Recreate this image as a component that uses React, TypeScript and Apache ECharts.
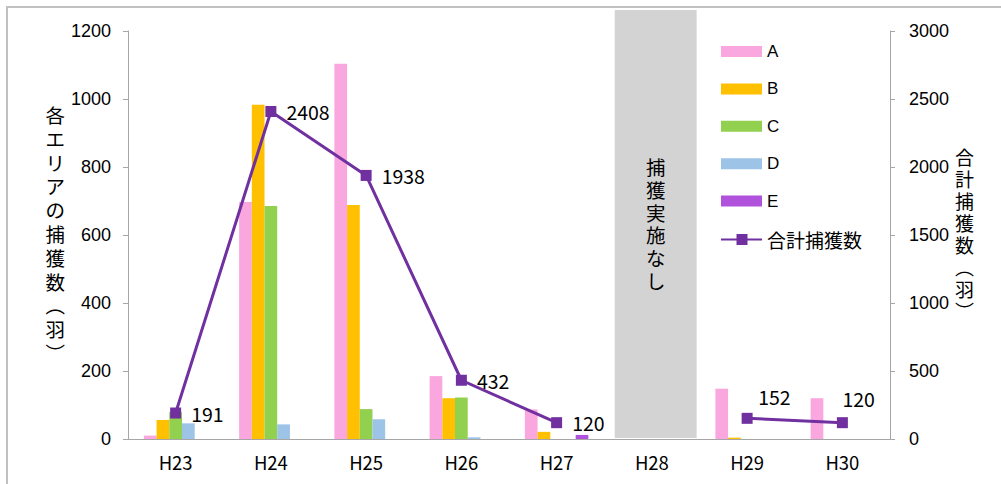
import React, { useEffect, useRef } from "react";
import * as echarts from "echarts";

const categories = ["H23", "H24", "H25", "H26", "H27", "H28", "H29", "H30"];
const seriesA = [10, 697, 1104, 185, 87, null, 148, 120];
const seriesB = [56, 983, 688, 120, 21, null, 4, 0];
const seriesC = [79, 685, 88, 122, 0, null, 0, 0];
const seriesD = [46, 43, 58, 5, 0, null, 0, 0];
const seriesE = [0, 0, 0, 0, 12, null, 0, 0];
const totals = [191, 2408, 1938, 432, 120, null, 152, 120];
const leftTicks = { min: 0, max: 1200, interval: 200 };
const rightTicks = { min: 0, max: 3000, interval: 500 };
const noSurveyCategory = "H28";
const noSurveyText = "捕獲実施なし";
const leftAxisName = "各エリアの捕獲数︵羽︶";
const rightAxisName = "合計捕獲数︵羽︶";
const totalName = "合計捕獲数";

const JP = '"Noto Sans CJK JP", "Noto Sans", sans-serif';
const LAT = '"Liberation Sans", Arial, sans-serif';
const VJP = '"Liberation Sans", "Noto Sans CJK JP", sans-serif';

const colors = {
  A: "#FBA7DF",
  B: "#FFC000",
  C: "#92D050",
  D: "#9DC3E6",
  E: "#B152DD",
  total: "#7030A0",
};

const lineLegendIcon = "path://M0,4.5H15.5V0H26.5V4.5H41V6.5H26.5V11H15.5V6.5H0Z";
// label offsets for the last two points (placed above-right in the reference)
const upperLabelOffsets: Record<number, number[]> = { 6: [-4.5, -22], 7: [-15.5, -24] };

export default function App() {
  const ref = useRef<HTMLDivElement>(null);
  useEffect(() => {
    if (!ref.current) return;
    const chart = echarts.init(ref.current, null, { renderer: "svg" });
    const axisLineStyle = { color: "#A6A6A6", width: 1 };
    const barBase = (name: string, data: (number | null)[], color: string) => ({
      name,
      type: "bar",
      data,
      yAxisIndex: 0,
      barWidth: 12.7,
      barGap: "0%",
      itemStyle: { color },
    });
    const labelRight = { show: true, position: "right", distance: 10, color: "#000", fontFamily: JP, fontSize: 19.5 };
    const totalData = totals.map((v, i) =>
      upperLabelOffsets[i] && v != null ? { value: v, label: { offset: upperLabelOffsets[i] } } : v
    );
    chart.setOption({
      animation: false,
      grid: { left: 128, right: 111, top: 31, bottom: 45 },
      legend: {
        orient: "vertical",
        left: 721,
        top: 43,
        padding: 0,
        itemWidth: 41,
        itemHeight: 11,
        itemGap: 20.4,
        textStyle: { fontFamily: LAT, fontSize: 17, color: "#000" },
        data: [
          { name: "A", icon: "rect" },
          { name: "B", icon: "rect" },
          { name: "C", icon: "rect" },
          { name: "D", icon: "rect" },
          { name: "E", icon: "rect" },
          { name: totalName, icon: lineLegendIcon, textStyle: { fontFamily: JP, fontSize: 19 } },
        ],
      },
      xAxis: {
        type: "category",
        data: categories,
        axisLine: { lineStyle: axisLineStyle },
        axisTick: { length: 5, lineStyle: axisLineStyle },
        axisLabel: { color: "#000", fontFamily: JP, fontSize: 18.5, margin: 14 },
      },
      yAxis: [
        {
          type: "value",
          ...leftTicks,
          position: "left",
          axisLine: { show: true, lineStyle: axisLineStyle },
          axisTick: { show: true, length: 5, lineStyle: axisLineStyle },
          splitLine: { show: false },
          axisLabel: { color: "#000", fontFamily: LAT, fontSize: 18, margin: 17, formatter: (v: number) => String(v) },
          name: leftAxisName.split("").join("\n"),
          nameLocation: "middle",
          nameRotate: 0,
          nameGap: 70,
          nameTextStyle: {
            color: "#000",
            fontFamily: VJP,
            fontSize: 19.5,
            lineHeight: 23.8,
            align: "center",
            padding: [30, 0, 0, 0],
          },
        },
        {
          type: "value",
          ...rightTicks,
          position: "right",
          axisLine: { show: true, lineStyle: axisLineStyle },
          axisTick: { show: true, length: 5, lineStyle: axisLineStyle },
          splitLine: { show: false },
          axisLabel: { color: "#000", fontFamily: LAT, fontSize: 18, margin: 19, formatter: (v: number) => String(v) },
          name: rightAxisName.split("").join("\n"),
          nameLocation: "middle",
          nameRotate: 0,
          nameGap: 72,
          nameTextStyle: {
            color: "#000",
            fontFamily: VJP,
            fontSize: 19,
            lineHeight: 22,
            align: "center",
            padding: [14, 0, 0, 0],
          },
        },
      ],
      series: [
        {
          type: "custom",
          xAxisIndex: 0,
          yAxisIndex: 1,
          silent: true,
          clip: false,
          data: [[noSurveyCategory, rightTicks.max]],
          renderItem: (params: any, api: any) => {
            const idx = api.value(0);
            const base = api.coord([idx, 0]);
            const top = api.coord([idx, api.value(1)]);
            const band = api.size([1, 0])[0];
            const x0 = base[0] - band * 0.39;
            const w = band * 0.86;
            const y0 = top[1] - 21;
            const y1 = base[1] - 1;
            return {
              type: "group",
              children: [
                { type: "rect", shape: { x: x0, y: y0, width: w, height: y1 - y0 }, style: { fill: "#D3D3D3" } },
                {
                  type: "text",
                  style: {
                    text: noSurveyText.split("").join("\n"),
                    x: x0 + w / 2,
                    y: 225,
                    align: "center",
                    verticalAlign: "middle",
                    fontFamily: VJP,
                    fontSize: 19.5,
                    lineHeight: 22.9,
                    fill: "#000",
                  },
                },
              ],
            };
          },
        },
        barBase("A", seriesA, colors.A),
        barBase("B", seriesB, colors.B),
        barBase("C", seriesC, colors.C),
        barBase("D", seriesD, colors.D),
        barBase("E", seriesE, colors.E),
        {
          name: totalName,
          type: "line",
          yAxisIndex: 1,
          data: totalData,
          connectNulls: false,
          symbol: "rect",
          symbolSize: 11,
          lineStyle: { color: colors.total, width: 3 },
          itemStyle: { color: colors.total },
          label: labelRight,
          z: 5,
        },
      ],
    });
    return () => chart.dispose();
  }, []);
  return (
    <div style={{ position: "absolute", left: 0, top: 0, width: 1001, height: 484, background: "#fff" }}>
      <div
        style={{
          position: "absolute",
          left: 6,
          top: 6,
          right: 0,
          bottom: 0,
          borderTop: "2px solid #C0C0C0",
          borderLeft: "2px solid #C0C0C0",
        }}
      />
      <div ref={ref} style={{ position: "absolute", left: 0, top: 0, width: 1001, height: 484 }} />
    </div>
  );
}
